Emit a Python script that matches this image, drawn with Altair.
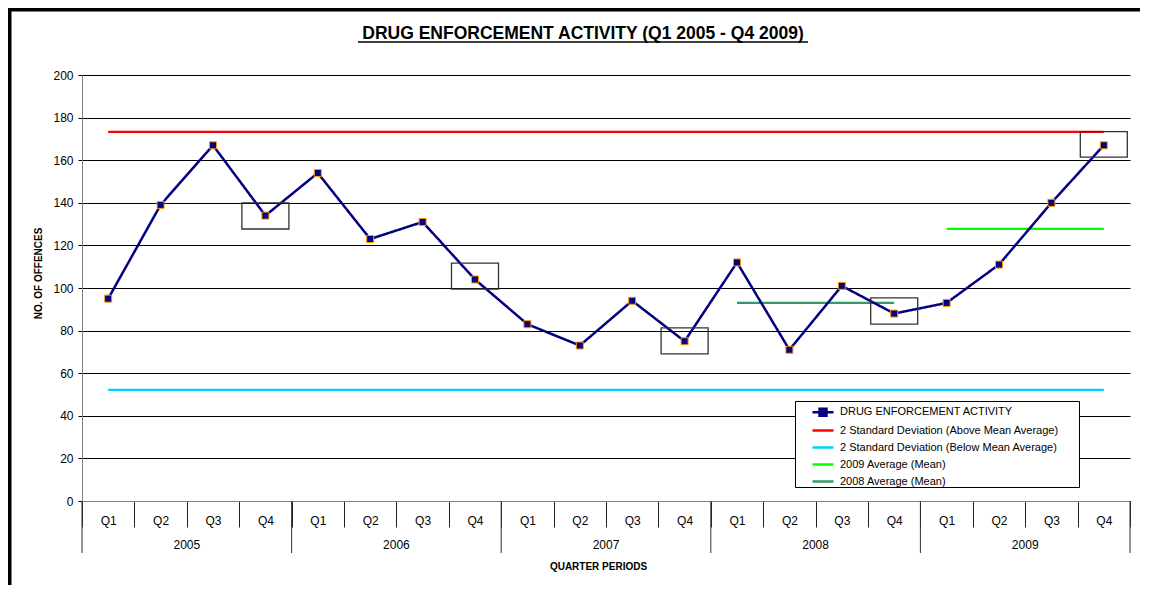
import altair as alt
import pandas as pd

years = ["2005", "2006", "2007", "2008", "2009"]
quarters = ["Q1", "Q2", "Q3", "Q4"]
activity = [95, 139, 167, 134, 154, 123, 131, 104, 83, 73, 94, 75,
            112, 71, 101, 88, 93, 111, 140, 167]
upper_2sd = 173.3
lower_2sd = 52.2
avg_2009 = 127.75
avg_2008 = 93
flag_keys = ["2005 Q4", "2006 Q4", "2007 Q4", "2008 Q4", "2009 Q4"]
flag_lo = [127.7, 99.5, 69.1, 83.0, 161.4]
flag_hi = [140.0, 111.7, 81.3, 95.4, 173.4]

main_name = "DRUG ENFORCEMENT ACTIVITY"
ref_names = [
    "2 Standard Deviation (Above Mean Average)",
    "2 Standard Deviation (Below Mean Average)",
    "2009 Average (Mean)",
    "2008 Average (Mean)",
]
main_color = "#000080"
ref_colors = ["#FF0000", "#00CCFF", "#00FF00", "#339966"]

chart_title = "DRUG ENFORCEMENT ACTIVITY (Q1 2005 - Q4 2009)"
x_title = "QUARTER PERIODS"
y_title = "NO. OF OFFENCES"

keys = [f"{y} {q}" for y in years for q in quarters]

main_df = pd.DataFrame({"key": keys, "value": activity, "main": main_name})
ref_rows = []
for name, val, k0, k1 in [
    (ref_names[0], upper_2sd, keys[0], keys[-1]),
    (ref_names[1], lower_2sd, keys[0], keys[-1]),
    (ref_names[2], avg_2009, "2009 Q1", "2009 Q4"),
    (ref_names[3], avg_2008, "2008 Q1", "2008 Q4"),
]:
    ref_rows.append({"key": k0, "value": val, "series": name})
    ref_rows.append({"key": k1, "value": val, "series": name})
ref_df = pd.DataFrame(ref_rows)
flag_df = pd.DataFrame({"key": flag_keys, "lo": flag_lo, "hi": flag_hi})
year_start_df = pd.DataFrame({"key": [f"{y} Q1" for y in years]})
year_end_df = pd.DataFrame({"key": [keys[-1]]})
year_label_df = pd.DataFrame({"key": [f"{y} Q3" for y in years], "year": years})
text_df = pd.DataFrame({"t": [chart_title]})

FONT = "Liberation Sans"
W, H = 1048, 426

x_scale = alt.Scale(domain=keys, type="band", paddingInner=0, paddingOuter=0)
x_axis = alt.Axis(
    labelExpr="split(datum.label, ' ')[1]", labelAngle=0, labelFontSize=12,
    labelColor="#000", labelPadding=-7, labelBaseline="middle",
    tickBand="extent", tickSize=26, tickColor="#222", domainColor="#808080",
    grid=False, title=x_title, titleFontSize=10, titleFontWeight="bold",
    titleX=516, titleY=65, titleBaseline="middle", titleColor="#000",
)
y_scale = alt.Scale(domain=[0, 200], nice=False)
y_axis = alt.Axis(
    values=list(range(0, 201, 20)), labelFontSize=12, labelColor="#000",
    labelPadding=5, tickSize=4, tickColor="#000", domainColor="#808080",
    grid=True, gridColor="#000", gridWidth=1,
    title=y_title, titleFontSize=10, titleFontWeight="bold", titleColor="#000",
    titleX=-44, titleY=198, titleBaseline="middle",
)


def xenc(**kw):
    return alt.X("key:N", sort=keys, scale=x_scale, axis=x_axis, **kw)


def yenc(field):
    return alt.Y(f"{field}:Q", scale=y_scale, axis=y_axis)


LEG_X = 713
common_leg = dict(
    orient="none", labelFont=FONT, labelFontSize=11, labelColor="#000", labelLimit=400,
    symbolSize=441, symbolStrokeWidth=2.5, symbolOffset=16, labelOffset=5,
    rowPadding=-3.2, padding=0,
)

# a hair-thin transparent title that only sets the box width and leaves room for row one
legend_spacer = "M" * 340

ref_color = alt.Color(
    "series:N",
    scale=alt.Scale(domain=ref_names, range=ref_colors),
    sort=ref_names,
    legend=alt.Legend(
        legendX=LEG_X, legendY=326, title=legend_spacer, titleFont=FONT,
        titleFontSize=1, titleFontWeight="normal", titlePadding=16.5, titleLimit=2000,
        titleOpacity=0,
        fillColor="#fff", strokeColor="#000", symbolType="stroke",
        zindex=1, **common_leg,
    ),
)
main_dash = alt.StrokeDash(
    "main:N",
    scale=alt.Scale(domain=[main_name], range=[[1, 0]]),
    legend=alt.Legend(
        legendX=LEG_X, legendY=325.2, title=None,
        symbolType="M-1,0H-0.33M0.33,0H1M-0.33,-0.33H0.33V0.33H-0.33Z",
        symbolFillColor=main_color, symbolStrokeColor=main_color, zindex=2,
        **common_leg,
    ),
)

frame = alt.Chart(text_df).mark_rect(fill="transparent", stroke="#000", strokeWidth=4).encode(
    x=alt.value(-72.5), x2=alt.value(1300), y=alt.value(-65.5), y2=alt.value(800)
)

ref_lines = alt.Chart(ref_df).mark_line(strokeWidth=2.2).encode(
    x=xenc(), y=yenc("value"), color=ref_color, detail="series:N"
)
main_line = alt.Chart(main_df).mark_line(strokeWidth=2.5, color=main_color).encode(
    x=xenc(), y=yenc("value"), strokeDash=main_dash
)
markers = alt.Chart(main_df).mark_square(
    size=49, filled=True, color=main_color, stroke="#FF9900", strokeWidth=1, opacity=1
).encode(x=xenc(), y=yenc("value"))
flags = alt.Chart(flag_df).mark_bar(
    width=47, fill="transparent", stroke="#333", strokeWidth=1.3
).encode(x=xenc(), y=yenc("lo"), y2="hi:Q")

year_div = alt.Chart(year_start_df).mark_rule(color="#333", strokeWidth=1).encode(
    x=xenc(bandPosition=0), y=alt.value(H), y2=alt.value(H + 52)
)
year_div_end = alt.Chart(year_end_df).mark_rule(color="#333", strokeWidth=1).encode(
    x=xenc(bandPosition=1), y=alt.value(H), y2=alt.value(H + 52)
)
year_labels = alt.Chart(year_label_df).mark_text(
    font=FONT, fontSize=12, color="#000", baseline="middle", align="center"
).encode(x=xenc(bandPosition=0), y=alt.value(H + 44), text="year:N")

title_text = alt.Chart(text_df).mark_text(
    font=FONT, fontSize=17.5, fontWeight="bold", color="#000", align="center", baseline="middle"
).encode(x=alt.value(501), y=alt.value(-41.5), text="t:N")
title_line = alt.Chart(text_df).mark_rule(color="#000", strokeWidth=1.5).encode(
    x=alt.value(276), x2=alt.value(726), y=alt.value(-33)
)

chart = alt.layer(
    frame, ref_lines, main_line, markers, flags, year_div, year_div_end, year_labels,
    title_text, title_line,
).properties(
    width=W, height=H,
    autosize=alt.AutoSizeParams(type="none"),
    padding={"left": 74, "top": 67, "right": 10, "bottom": 84},
).configure(font=FONT).configure_view(stroke=None)

chart.save("out.html", embed_options={"renderer": "svg", "actions": False})
